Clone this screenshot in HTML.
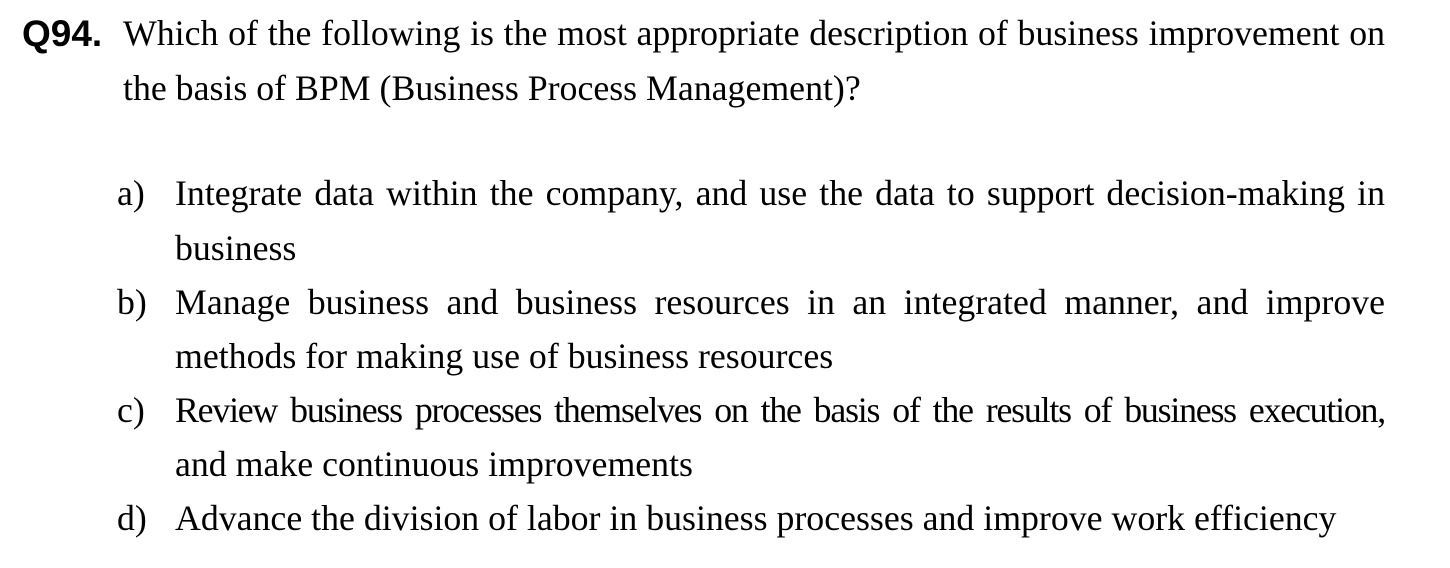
<!DOCTYPE html>
<html><head><meta charset="utf-8"><style>
body{margin:0;width:1450px;height:568px;background:#fff;position:relative;overflow:hidden;color:#000}
.l{position:absolute;font-family:"Liberation Serif",serif;font-size:35.8px;line-height:54px;white-space:nowrap}
.j{text-align:justify;text-align-last:justify;white-space:normal}
.q{position:absolute;left:22px;top:7px;font-family:"Liberation Sans",sans-serif;font-weight:bold;font-size:37px;line-height:54px}
.m{position:absolute;left:117px;font-family:"Liberation Serif",serif;font-size:35.8px;line-height:54px}
</style></head><body>
<div class="q">Q94.</div>
<div>
<div class="l j" style="left:123px;top:6px;width:1262px">Which of the following is the most appropriate description of business improvement on</div>
<div class="l" style="left:123px;top:61px">the basis of BPM (Business Process Management)?</div>
</div>
<div>
<div class="m" style="top:166px">a)</div>
<div class="l j" style="left:175px;top:166px;width:1210px">Integrate data within the company, and use the data to support decision-making in</div>
<div class="l" style="left:175px;top:221px">business</div>
</div>
<div>
<div class="m" style="top:275px">b)</div>
<div class="l j" style="left:175px;top:275px;width:1210px">Manage business and business resources in an integrated manner, and improve</div>
<div class="l" style="left:175px;top:329px">methods for making use of business resources</div>
</div>
<div>
<div class="m" style="top:383px">c)</div>
<div class="l j" style="left:175px;top:383px;width:1210px;letter-spacing:-1.2px">Review business processes themselves on the basis of the results of business execution,</div>
<div class="l" style="left:175px;top:437px">and make continuous improvements</div>
</div>
<div>
<div class="m" style="top:491px">d)</div>
<div class="l" style="left:175px;top:491px">Advance the division of labor in business processes and improve work efficiency</div>
</div>
</body></html>
